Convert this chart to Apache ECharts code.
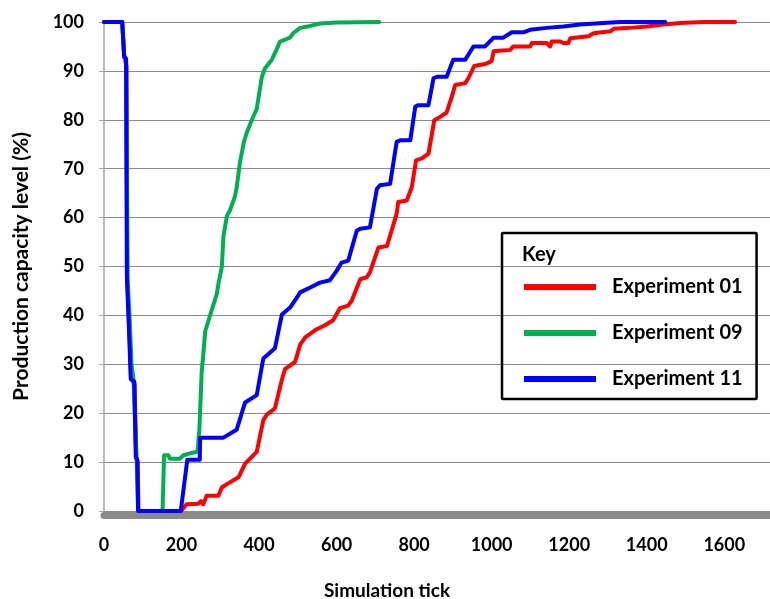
<!DOCTYPE html>
<html>
<head>
<meta charset="utf-8">
<script src="https://cdn.jsdelivr.net/npm/echarts@6/dist/echarts.min.js"></script>
<style>
html,body{margin:0;padding:0;background:#fff;}
#chart{width:770px;height:599px;}
</style>
</head>
<body>
<div id="chart"></div>
<script>
// Data: [simulation tick, production capacity level %]
var exp01 = [[0,100],[47,100],[52,93],[58,91],[60,47],[65,38],[70,27],[79,26],[83,11],[87,10],[89,0],
  [199,0],[213,1.4],[243,1.5],[250,2],[256,1.4],[265,3.1],[295,3.1],[304,4.8],[317,5.5],[347,6.9],
  [364,9.7],[394,12.1],[411,18.6],[420,19.7],[441,21],[459,26.9],[467,29],[493,30.5],[506,34],
  [519,35.5],[545,37],[570,38],[591,39],[609,41.5],[630,42],[639,43],[661,47.4],[678,47.8],[686,48.8],
  [708,53.9],[730,54.2],[755,60.8],[759,63.2],[781,63.5],[794,66.2],[805,71.7],[820,72.1],[837,73.1],
  [852,79.9],[867,80.6],[884,81.5],[897,84.7],[906,87.1],[932,87.5],[940,88.5],[955,91],[983,91.4],
  [1000,92],[1005,94],[1048,94.3],[1056,95],[1099,95],[1104,95.7],[1142,95.7],[1151,95],[1155,96],
  [1177,96],[1185,95.7],[1198,95.7],[1203,96.7],[1250,97.1],[1263,97.7],[1306,98.1],[1315,98.6],
  [1357,98.8],[1400,99.1],[1443,99.5],[1486,99.8],[1547,100],[1628,100]];

var exp09 = [[0,100],[47,100],[52,93],[57,92],[61,47],[66,40],[71,30],[76,27],[84,11],[88,0],
  [151,0],[155,11.4],[166,11.4],[170,10.7],[196,10.7],[205,11.4],[222,11.8],[241,12.1],[246,16.6],
  [252,28.4],[256,31.9],[261,36.7],[269,38.8],[291,44.4],[295,46.4],[304,49.9],[308,56.1],[317,60.3],
  [325,61.5],[338,64.4],[342,66],[351,71.4],[361,75.5],[368,77.3],[381,79.9],[394,82.2],[407,88.7],
  [415,90.5],[433,92.3],[446,94.5],[454,96],[480,96.8],[488,97.7],[506,98.8],[532,99.2],[557,99.7],
  [600,99.9],[710,100]];

var exp11 = [[0,100],[47,100],[52,93],[57,92.5],[59,48],[64,38],[69,27],[78,26.5],[82,11],[86,10.4],[88,0],
  [198,0],[215,10.5],[247,10.5],[248,15],[308,15],[342,16.6],[364,22.2],[394,23.7],[411,31.2],[441,33.3],
  [459,40.2],[480,41.6],[497,43.6],[506,44.7],[532,45.7],[557,46.7],[583,47.2],[600,49.1],[613,50.8],
  [630,51.2],[652,57.3],[661,57.7],[686,58],[704,65.9],[712,66.6],[738,66.9],[755,75.5],[764,75.8],
  [790,75.8],[803,82.7],[811,83],[837,83],[850,88.5],[859,88.8],[884,88.8],[901,92.3],[932,92.3],
  [953,95],[983,95],[1005,96.8],[1030,96.8],[1052,97.9],[1082,97.9],[1099,98.4],[1142,98.8],
  [1185,99.1],[1228,99.5],[1288,99.8],[1332,100],[1448,100]];

var seriesNames = ['Experiment 01','Experiment 09','Experiment 11'];
var seriesColors = ['#FF0000','#00B050','#0000FF'];
var seriesData = [exp01, exp09, exp11];

var FONT = 'Lato, "Open Sans", sans-serif';
var chart = echarts.init(document.getElementById('chart'), null, {renderer:'canvas'});
chart.setOption({
  animation:false,
  backgroundColor:'#ffffff',
  grid:{left:104, right:0, top:22, bottom:88, containLabel:false, outerBoundsMode:'none'},
  title:{text:'Key', left:522, top:245, padding:0,
    textStyle:{fontFamily:FONT, fontSize:20, fontWeight:'bold', color:'#000'}},
  legend:{
    orient:'vertical', left:502, top:233,
    padding:[43,14,9,22],
    itemWidth:72, itemHeight:6, itemGap:24,
    icon:'rect',
    borderColor:'#000', borderWidth:2.5, borderRadius:1,
    textStyle:{fontFamily:FONT, fontSize:20, fontWeight:'bold', color:'#000', lineHeight:22, padding:[0,0,0,11]},
    data:seriesNames
  },
  xAxis:{
    type:'value', min:0, max:1718, interval:200,
    offset:4,
    axisLine:{show:true, onZero:false, lineStyle:{color:'#898989', width:7}},
    axisTick:{show:false},
    splitLine:{show:false},
    axisLabel:{fontFamily:FONT, fontSize:18, fontWeight:'bold', color:'#000', margin:21, showMaxLabel:false,
      formatter:function(v){return String(v);}},
    name:'Simulation tick', nameLocation:'middle', nameGap:66,
    nameTextStyle:{fontFamily:FONT, fontSize:19, fontWeight:'bold', color:'#000', padding:[0,100,0,0]}
  },
  yAxis:{
    type:'value', min:0, max:100, interval:10,
    axisLine:{show:true, lineStyle:{color:'#a6a6a6', width:1.5}},
    axisTick:{show:true, length:5, lineStyle:{color:'#a6a6a6'}},
    splitLine:{show:true, lineStyle:{color:'#8c8c8c', width:1}},
    axisLabel:{fontFamily:FONT, fontSize:18, fontWeight:'bold', color:'#000', margin:20},
    name:'Production capacity level (%)', nameLocation:'middle', nameGap:72, nameRotate:90,
    nameTextStyle:{fontFamily:FONT, fontSize:21, fontWeight:'bold', color:'#000'}
  },
  series: seriesNames.map(function(n,i){
    return {
      name:n, type:'line', data:seriesData[i],
      symbol:'none', showSymbol:false, smooth:false,
      color:seriesColors[i],
      itemStyle:{color:seriesColors[i]},
      lineStyle:{color:seriesColors[i], width:4, join:'round', cap:'round'},
      z:2+i
    };
  })
});
</script>
</body>
</html>
